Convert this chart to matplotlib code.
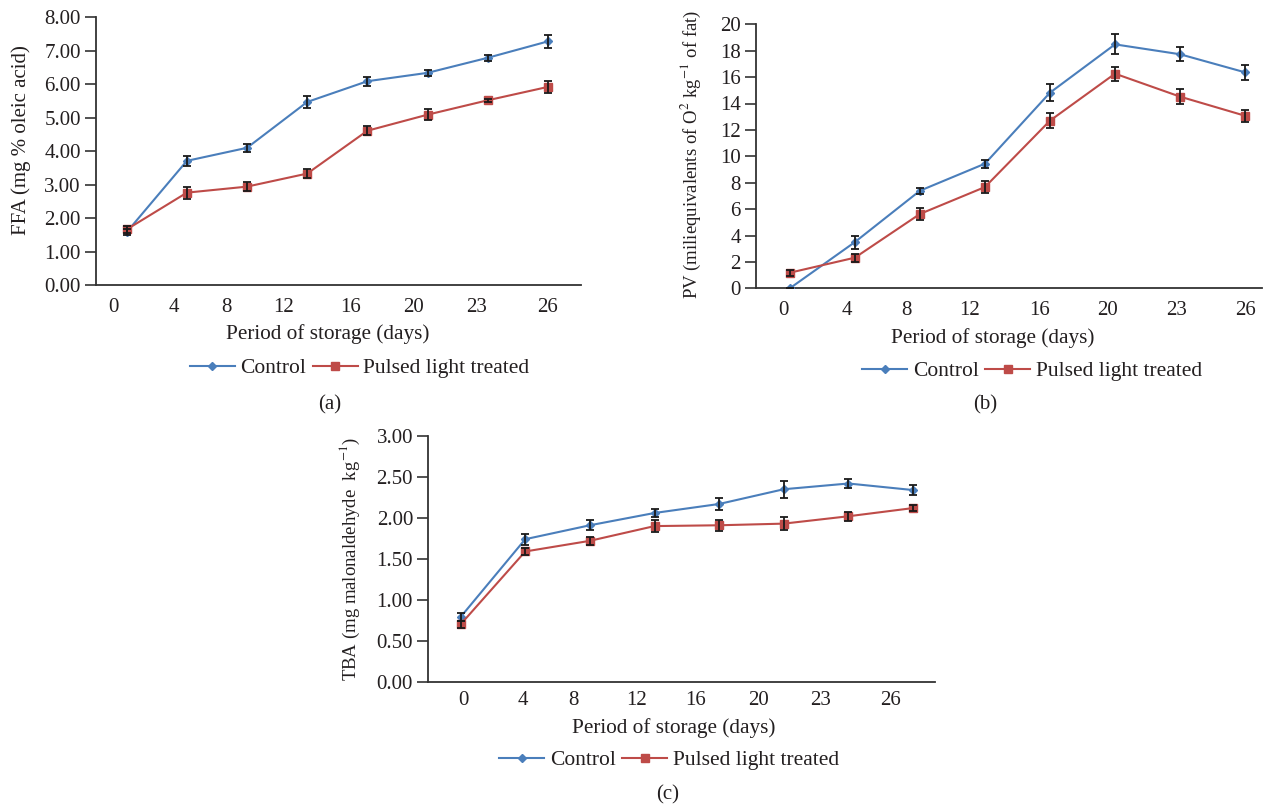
import matplotlib
matplotlib.use("Agg")
import matplotlib.pyplot as plt
import numpy as np

plt.rcParams['font.family'] = ['Liberation Serif', 'DejaVu Serif']
plt.rcParams['mathtext.fontset'] = 'stix'

# ---------------- data ----------------
days = ['0', '4', '8', '12', '16', '20', '23', '26']

ffa_control = [1.58, 3.71, 4.10, 5.47, 6.09, 6.34, 6.79, 7.28]
ffa_control_err = [0.08, 0.16, 0.12, 0.17, 0.13, 0.10, 0.09, 0.19]
ffa_treated = [1.66, 2.76, 2.94, 3.33, 4.61, 5.09, 5.52, 5.92]
ffa_treated_err = [0.10, 0.18, 0.13, 0.13, 0.14, 0.16, 0.04, 0.18]

pv_control = [0.0, 3.50, 7.39, 9.44, 14.82, 18.48, 17.73, 16.36]
pv_control_err = [0.0, 0.50, 0.24, 0.30, 0.63, 0.76, 0.53, 0.59]
pv_treated = [1.18, 2.32, 5.63, 7.67, 12.70, 16.26, 14.52, 13.07]
pv_treated_err = [0.23, 0.30, 0.43, 0.45, 0.59, 0.52, 0.58, 0.45]

tba_control = [0.79, 1.74, 1.91, 2.06, 2.17, 2.35, 2.42, 2.34]
tba_control_err = [0.05, 0.065, 0.06, 0.05, 0.07, 0.105, 0.057, 0.06]
tba_treated = [0.70, 1.59, 1.72, 1.90, 1.91, 1.93, 2.02, 2.12]
tba_treated_err = [0.04, 0.047, 0.05, 0.07, 0.07, 0.08, 0.057, 0.04]

series_names = ['Control', 'Pulsed light treated']

# ---------------- style ----------------
BLUE = '#4A7EBB'
RED = '#BE4B48'
TXT = '#231F20'
AX = '#333333'

fig = plt.figure(figsize=(12.66, 8.06), dpi=100)
W, H = 1266.0, 806.0


def add_axes(left, right, top, bottom):
    return fig.add_axes([left / W, 1 - bottom / H, (right - left) / W, (bottom - top) / H])


def panel(ax, ctrl, ctrl_err, trt, trt_err, ylim, yticks, yfmt, xlim, tickpos,
          ylabel, ylab_size, ylab_xy, xlab_xy, tick_pad):
    x = np.arange(len(days))
    l1, = ax.plot(x, ctrl, color=BLUE, lw=1.5, marker='D', ms=4.2, mec=BLUE, mfc=BLUE, zorder=3)
    l2, = ax.plot(x, trt, color=RED, lw=1.5, marker='s', ms=5.8, mec=RED, mfc=RED, zorder=3)
    ax.errorbar(x, ctrl, yerr=ctrl_err, fmt='none', ecolor='#1a1a1a', elinewidth=1.3,
                capsize=3, capthick=1.3, zorder=4)
    ax.errorbar(x, trt, yerr=trt_err, fmt='none', ecolor='#1a1a1a', elinewidth=1.3,
                capsize=3, capthick=1.3, zorder=4)
    ax.set_xlim(*xlim)
    ax.set_ylim(*ylim)
    ax.set_yticks(yticks)
    ax.set_yticklabels([yfmt.format(v) for v in yticks])
    ax.set_xticks(tickpos)
    ax.set_xticklabels(days)
    for s in ['top', 'right']:
        ax.spines[s].set_visible(False)
    for s in ['left', 'bottom']:
        ax.spines[s].set_color(AX)
        ax.spines[s].set_linewidth(1.3)
    ax.tick_params(axis='x', length=0, pad=tick_pad, labelsize=15, labelcolor=TXT)
    ax.tick_params(axis='y', length=8, width=1.2, color=AX, pad=3, labelsize=15, labelcolor=TXT)
    ax.set_xlabel('Period of storage (days)', fontsize=15.3, color=TXT)
    ax.xaxis.set_label_coords(*xlab_xy)
    ax.set_ylabel(ylabel, fontsize=ylab_size, color=TXT)
    ax.yaxis.set_label_coords(*ylab_xy)
    ax.patch.set_alpha(0)
    return l1, l2


# panel (a)
ax_a = add_axes(96, 581, 17.3, 285)
h = panel(ax_a, ffa_control, ffa_control_err, ffa_treated, ffa_treated_err,
          (0, 8), np.arange(0, 8.01, 1.0), '{:.2f}', (-0.51, 7.55),
          [-0.22, 0.79, 1.66, 2.61, 3.72, 4.76, 5.81, 7.0],
          'FFA (mg % oleic acid)', 15, (-0.134, 0.543), (0.478, -0.145), 9)

# panel (b)
ax_b = add_axes(756, 1262, 24.3, 288.3)
panel(ax_b, pv_control, pv_control_err, pv_treated, pv_treated_err,
      (0, 20), np.arange(0, 20.1, 2), '{:.0f}', (-0.52, 7.26),
      [-0.10, 0.88, 1.80, 2.77, 3.84, 4.89, 5.94, 7.0],
      'PV (miliequivalents of O$^{2}$ kg$^{-1}$ of fat)', 13.5, (-0.105, 0.507), (0.468, -0.15), 9)

# panel (c)
ax_c = add_axes(428.3, 935, 436, 681.7)
panel(ax_c, tba_control, tba_control_err, tba_treated, tba_treated_err,
      (0, 3), np.arange(0, 3.01, 0.5), '{:.2f}', (-0.5, 7.34),
      [0.05, 0.96, 1.75, 2.72, 3.63, 4.61, 5.57, 6.65],
      'TBA (mg malonaldehyde  kg$^{-1}$)', 13.5, (-0.131, 0.501), (0.485, -0.15), 7)

# legends
for cx, cy in [(359.5, 368), (1032, 371), (669, 760)]:
    fig.legend(h, series_names, loc='center', bbox_to_anchor=(cx / W, 1 - cy / H),
               ncol=2, frameon=False, fontsize=15.5, handlelength=2.1,
               handletextpad=0.25, columnspacing=0.3, labelcolor=TXT, borderpad=0)

# captions
for lab, cx, cy in [('(a)', 330, 405), ('(b)', 985, 405), ('(c)', 668, 795)]:
    fig.text(cx / W, 1 - cy / H, lab, ha='center', va='center', fontsize=15, color=TXT)

fig.savefig('out.png', dpi=100)
